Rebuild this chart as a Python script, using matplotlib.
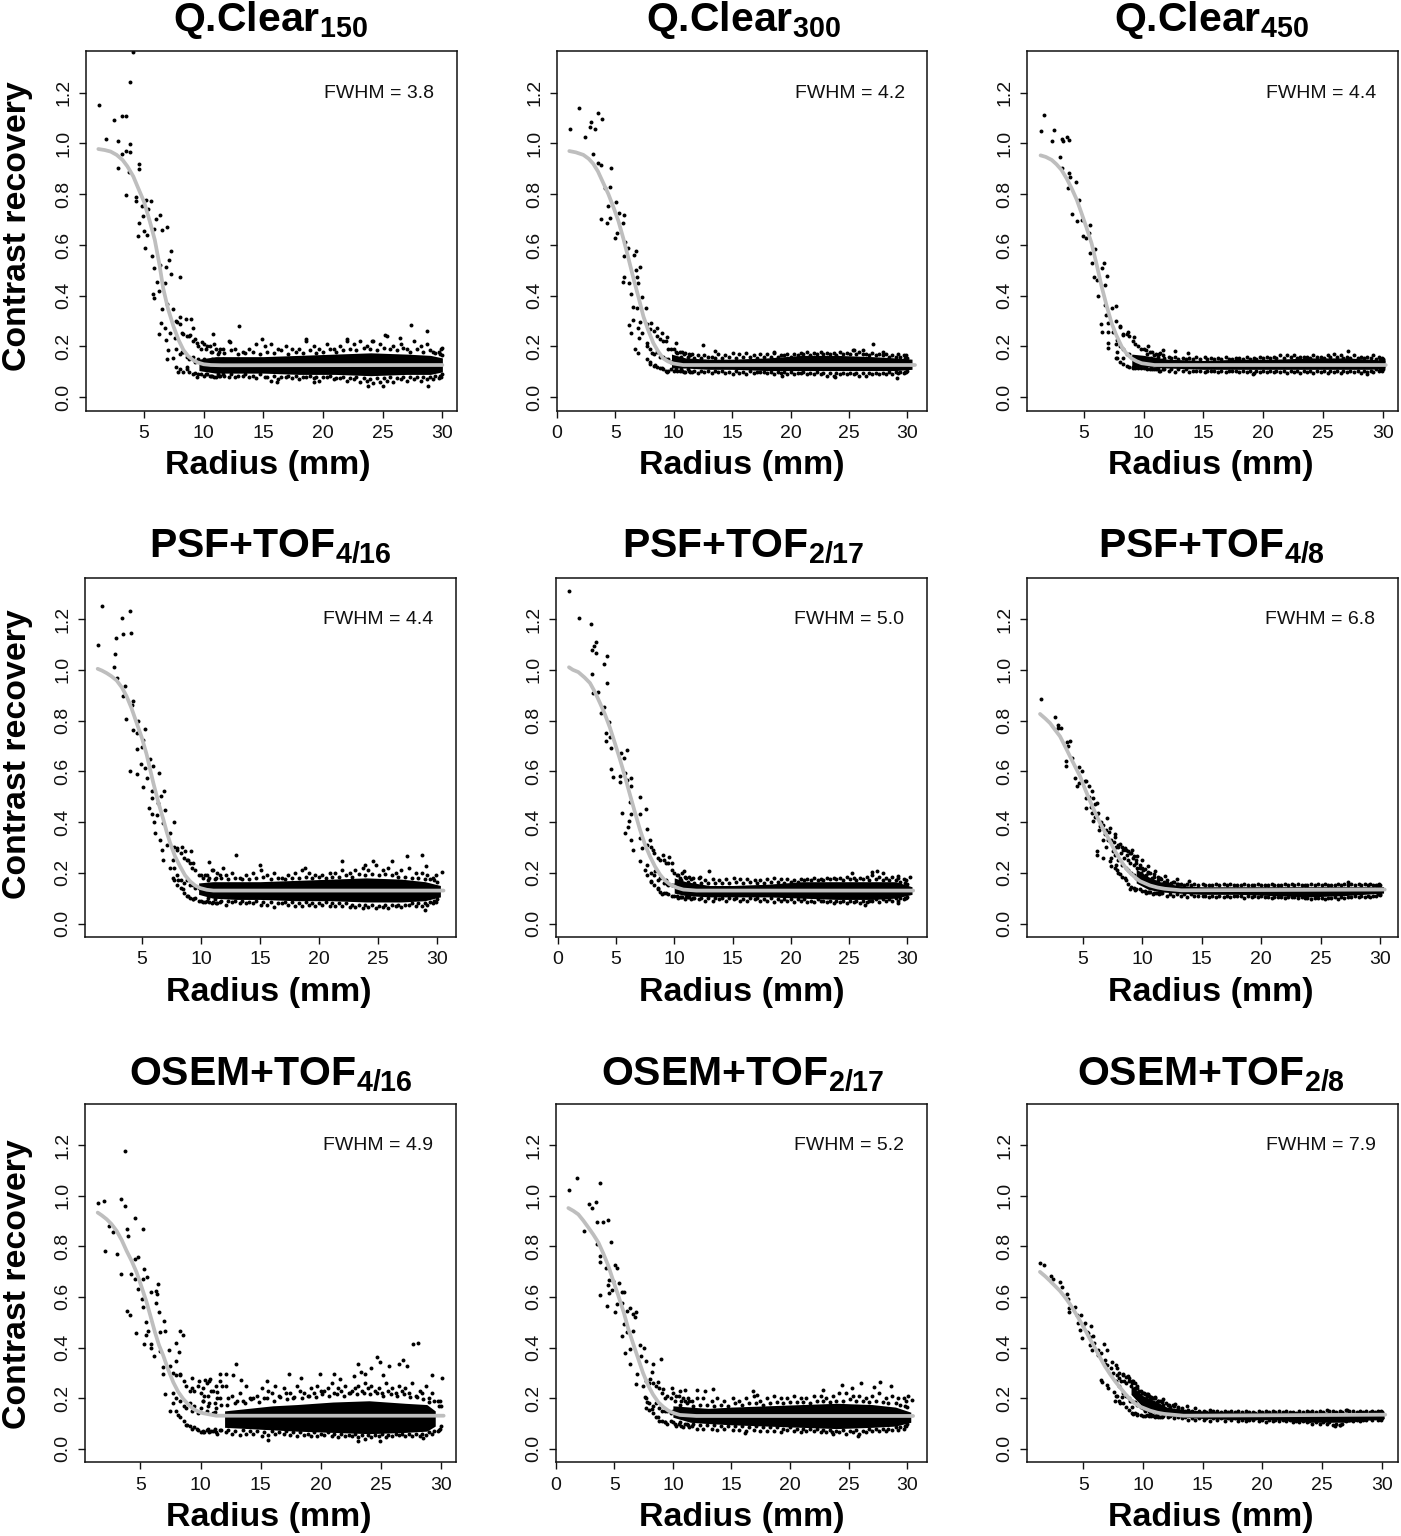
import matplotlib
matplotlib.use("Agg")
import matplotlib.pyplot as plt

plt.rcParams['font.family'] = ['Liberation Sans', 'DejaVu Sans']
plt.rcParams['mathtext.fontset'] = 'custom'
plt.rcParams['mathtext.bf'] = 'Liberation Sans:bold'
plt.rcParams['mathtext.rm'] = 'Liberation Sans'

# ---------- labels ----------
TITLES = [r"Q.Clear$_{\mathbf{150}}$", r"Q.Clear$_{\mathbf{300}}$", r"Q.Clear$_{\mathbf{450}}$",
          r"PSF+TOF$_{\mathbf{4/16}}$", r"PSF+TOF$_{\mathbf{2/17}}$", r"PSF+TOF$_{\mathbf{4/8}}$",
          r"OSEM+TOF$_{\mathbf{4/16}}$", r"OSEM+TOF$_{\mathbf{2/17}}$", r"OSEM+TOF$_{\mathbf{2/8}}$"]
FWHM = ["3.8", "4.2", "4.4", "4.4", "5.0", "6.8", "4.9", "5.2", "7.9"]
Y_TICKS = [0.0, 0.2, 0.4, 0.6, 0.8, 1.0, 1.2]
X_TICKS_NO0 = [5, 10, 15, 20, 25, 30]
X_TICKS_0 = [0, 5, 10, 15, 20, 25, 30]

# ---------- fitted curves (radius, recovery) ----------
CX1 = [1.17,1.7,2.2,2.7,3.2,3.6,4.1,4.5,5,5.5,5.9,6.3,6.6,7,7.46,7.9,8.3,8.7,9.1,9.5,10,10.6,11.5,30]
CY1 = [.978,.974,.968,.955,.935,.91,.87,.825,.77,.69,.62,.52,.43,.35,.28,.225,.186,.162,.147,.137,.13,.127,.126,.127]
CX2 = [1.05,1.6,2.25,2.7,3.1,3.5,3.97,4.4,4.82,5.25,5.68,6.1,6.54,7.0,7.4,7.8,8.25,8.7,9.1,9.5,9.96,10.8,30.66]
CY2 = [.97,.965,.955,.94,.92,.89,.843,.80,.75,.695,.625,.55,.469,.39,.318,.265,.213,.178,.153,.141,.133,.127,.127]
CX3 = [1.37,1.8,2.3,2.7,3.13,3.55,3.97,4.4,4.8,5.2,5.64,6.05,6.48,6.9,7.32,7.7,8.15,8.55,8.99,9.4,9.83,10.9,30.25]
CY3 = [.953,.947,.935,.918,.895,.862,.823,.778,.725,.67,.606,.525,.436,.36,.291,.245,.2,.173,.153,.142,.134,.127,.127]
CX4 = [1.24,1.6,2.0,2.4,2.85,3.3,3.7,4.1,4.55,5.0,5.4,5.7,5.96,6.4,6.81,7.1,7.38,7.8,8.22,8.65,9.07,9.5,9.92,10.5,11.05,30.57]
CY4 = [1.004,.997,.987,.975,.958,.93,.895,.85,.79,.73,.665,.605,.554,.475,.41,.36,.318,.265,.226,.19,.167,.15,.14,.133,.13,.13]
CX5 = [.97,1.3,1.77,2.3,2.77,3.2,3.63,4.05,4.49,4.9,5.35,5.8,6.2,6.65,7.06,7.5,7.92,8.35,8.78,9.2,9.64,10.2,10.78,11.9,30.5]
CY5 = [1.01,1.0,.991,.97,.948,.912,.869,.825,.771,.712,.646,.575,.508,.435,.37,.31,.265,.225,.193,.17,.154,.142,.134,.13,.13]
CX6 = [1.41,1.85,2.25,2.65,3.09,3.5,3.93,4.35,4.78,5.2,5.62,6.05,6.46,6.9,7.3,7.7,8.14,8.55,8.98,9.4,9.82,10.66,11.3,11.9,13.3,30.4]
CY6 = [.826,.808,.79,.765,.738,.70,.659,.62,.58,.53,.482,.437,.396,.358,.324,.287,.252,.224,.2,.182,.167,.15,.142,.137,.131,.134]
CX7 = [1.46,1.8,2.2,2.6,3.03,3.45,3.86,4.3,4.7,5.1,5.53,5.9,6.22,6.55,6.91,7.3,7.74,8.15,8.57,9.0,9.4,9.8,10.2,11.3,30.2]
CY7 = [.933,.922,.907,.888,.861,.825,.782,.74,.696,.64,.578,.515,.46,.41,.368,.315,.263,.225,.197,.175,.158,.148,.141,.131,.131]
CX8 = [1.08,1.5,1.93,2.35,2.79,3.2,3.64,4.05,4.49,4.9,5.35,5.8,6.2,6.65,7.05,7.45,7.9,8.3,8.76,9.2,9.61,10.1,10.6,12,30.5]
CY8 = [.951,.94,.926,.902,.874,.847,.815,.773,.723,.665,.604,.54,.473,.41,.355,.30,.25,.215,.184,.165,.151,.141,.134,.13,.13]
CX9 = [1.37,1.8,2.2,2.6,3.04,3.45,3.88,4.3,4.72,5.15,5.56,6,6.4,6.8,7.23,7.65,8.07,8.5,8.91,9.3,9.75,10.6,11.2,11.8,13.4,30.3]
CY9 = [.699,.682,.664,.645,.624,.60,.572,.54,.506,.47,.434,.397,.361,.327,.296,.268,.243,.218,.197,.18,.167,.151,.143,.138,.131,.135]

# ---------- individually legible points (radius, recovery) ----------
PX1 = [1.23,1.84,2.49,2.82,2.79,3.16,3.46,3.13,3.49,3.85,4.1,3.83,3.8,3.77,3.52,4.61,4.55,4.33,4.36,5.14,5.59,4.8,5.31,4.89,6.34,5.98,4.61,6.9,6.48,5.84,5.0,4.53,5.22,5.08,7.23,5.7,7.12,6.34,6.84,5.81,7.26,7.99,6.12,6.76,5.73,5.84,6.28,6.9,7.46,6.51,8.02,8.52,8.91,6.42,6.76,7.74,9.13,6.23,7.18,8.21,6.82,7.6,8.85,7.04,6.9,7.46,8.16,9.41,7.88,8.58,9.41,9.89,10.78,12.99,12.2,14.86,18.58,27.37,28.69,25.2,22.0,24.08,26.45,30.0,28.76,25.0,23.8,16.12,19.2]
PY1 = [1.15,1.016,1.092,1.01,.905,1.108,1.11,.958,.97,1.242,1.36,.999,.965,.889,.797,.919,.898,.79,.773,.777,.775,.755,.742,.714,.717,.702,.688,.672,.659,.662,.655,.637,.639,.587,.578,.557,.541,.521,.512,.508,.484,.475,.456,.449,.407,.39,.42,.368,.347,.347,.318,.31,.31,.291,.272,.298,.272,.249,.252,.255,.226,.232,.246,.186,.15,.154,.18,.213,.101,.121,.081,.217,.248,.281,.219,.228,.228,.285,.261,.245,.228,.223,.235,.193,.046,.046,.046,.062,.062]
PX2 = [1.11,1.88,2.43,2.83,2.88,3.23,3.54,3.85,3.11,3.48,3.8,4.6,4.11,4.54,5.02,4.34,3.74,4.31,4.54,5.31,5.71,5.65,5.11,4.97,5.82,6.11,6.74,6.6,5.74,7.08,6.77,6.88,5.77,5.62,6.19,6.97,6.31,7.28,6.54,7.62,6.82,6.54,6.19,7.11,8.02,6.97,6.37,7.25,8.54,8.96,9.39,7.02,7.68,6.68,6.91,8.11,7.96,8.39,8.96,9.39,10.16,12.47,13.53,27.09,25.38,18.58,26.18,27.95,19.23,23.81,29.09]
PY2 = [1.056,1.138,1.025,1.063,1.086,1.057,1.12,1.096,.957,.922,.915,.902,.826,.827,.769,.755,.702,.688,.705,.727,.719,.685,.649,.628,.613,.587,.578,.561,.557,.515,.502,.475,.475,.453,.452,.449,.406,.393,.354,.353,.351,.305,.285,.298,.291,.272,.255,.252,.272,.252,.239,.232,.213,.189,.176,.173,.14,.127,.114,.101,.215,.206,.184,.209,.186,.18,.186,.18,.084,.081,.077]
PX3 = [1.4,1.68,2.49,2.29,3.13,3.27,3.6,3.74,2.96,3.13,3.74,3.83,4.3,3.63,4.58,3.97,4.39,4.8,5.5,4.94,5.42,5.14,5.92,5.5,5.64,6.67,6.48,6.93,5.86,6.06,6.76,6.2,7.65,6.76,7.32,6.81,7.04,6.42,8.01,6.53,6.98,8.71,7.46,8.29,9.21,7.04,7.73,7.04,7.73,7.73,8.29,9.13,10.33,11.64,12.62,13.73,27.13,19.17,28.72,29.78,30.06]
PY3 = [1.05,1.111,1.054,1.01,1.017,1.008,1.024,1.015,.945,.902,.882,.869,.849,.823,.777,.721,.694,.698,.677,.637,.646,.626,.583,.567,.528,.528,.508,.478,.473,.462,.442,.399,.36,.364,.351,.324,.294,.287,.278,.259,.256,.259,.259,.245,.239,.213,.226,.193,.18,.156,.154,.121,.202,.186,.184,.173,.184,.092,.092,.108,.147]
PX4 = [1.27,1.61,2.6,2.71,2.77,3.27,3.39,4.01,4.09,2.85,3.53,3.42,4.26,4.18,3.64,4.69,5.28,4.26,4.55,5.11,4.97,4.58,4.89,3.95,4.55,5.25,5.71,5.96,6.47,5.06,5.4,5.82,6.87,6.61,5.82,5.62,6.39,6.98,5.82,6.24,7.69,6.02,6.81,6.1,7.38,6.53,7.09,8.37,6.67,7.94,6.81,8.65,9.13,7.66,7.38,8.93,7.66,9.21,8.45,8.08,8.93,9.36,10.68,12.98,11.84,15.01,24.57,27.5,28.73,26.18,30.42,29.07,29.01,21.94,23.92,18.83]
PY4 = [1.098,1.251,1.01,1.062,1.125,1.205,1.141,1.231,1.145,.968,.935,.895,.876,.863,.807,.8,.768,.761,.751,.725,.694,.688,.629,.603,.591,.613,.649,.622,.593,.538,.574,.521,.521,.504,.495,.456,.475,.446,.433,.429,.402,.399,.396,.357,.357,.331,.311,.301,.291,.298,.252,.285,.285,.252,.219,.252,.18,.219,.137,.173,.108,.095,.243,.272,.219,.23,.246,.265,.269,.246,.202,.226,.053,.246,.232,.219]
PX5 = [.97,1.8,2.83,3.26,3.15,2.92,3.29,4.2,3.95,2.92,4.2,3.06,3.46,3.97,3.72,4.4,4.15,4.15,4.49,4.55,5.92,5.4,5.72,4.6,4.72,5.78,5.92,5.35,5.35,6.32,6.32,7.09,6.2,7.58,5.49,7.06,6.32,6.15,7.64,6.0,5.81,6.29,7.06,7.92,6.49,7.21,8.21,9.06,9.58,9.78,7.06,7.49,7.98,8.35,8.64,8.92,9.35,10.84,13.01,12.21,25.28,26.94,27.42,27.94,29.22,30.23,26.37,29.17]
PY5 = [1.309,1.205,1.18,1.109,1.095,1.079,1.065,1.056,1.022,.982,.947,.908,.914,.853,.828,.796,.751,.721,.735,.693,.683,.672,.652,.61,.578,.593,.567,.583,.557,.574,.541,.498,.479,.453,.436,.433,.433,.403,.373,.379,.357,.331,.337,.331,.288,.298,.291,.272,.263,.239,.246,.213,.169,.206,.14,.118,.154,.206,.206,.184,.2,.202,.206,.2,.186,.182,.072,.081]
PX6 = [1.47,2.67,2.9,3.18,2.95,3.93,3.68,3.74,3.57,3.57,4.13,4.69,4.92,4.36,4.5,5.25,5.53,5.76,4.69,5.25,5.25,5.9,6.23,5.81,6.32,5.9,7.02,6.46,7.3,6.88,7.72,7.16,8.14,7.58,6.23,6.23,6.74,7.3,7.35,8.56,9.12,9.54,7.86,8.14,8.56,8.98,9.4,9.96,10.52,11.08,11.92,12.9,13.97,27.34,30.0]
PY6 = [.884,.815,.784,.771,.771,.721,.714,.698,.639,.622,.652,.617,.6,.574,.541,.561,.541,.521,.554,.495,.456,.495,.475,.436,.436,.403,.416,.383,.377,.351,.351,.331,.315,.285,.285,.272,.259,.246,.226,.298,.291,.265,.213,.197,.18,.137,.134,.252,.226,.206,.186,.176,.169,.163,.114]
PX7 = [1.48,2.01,2.43,2.76,2.04,3.09,3.39,3.7,3.7,3.92,3.95,4.56,5.22,3.37,4.2,4.56,4.78,5.3,4.56,5.19,5.53,6.5,6.3,5.86,6.41,4.78,5.11,5.25,3.92,4.14,6.27,6.58,5.47,7.0,4.61,5.33,5.44,5.66,8.29,8.52,6.63,7.05,5.86,5.89,6.16,7.93,7.41,8.21,6.63,7.96,6.91,7.46,8.29,9.26,6.91,9.87,10.37,10.79,11.62,12.12,12.72,12.92,13.33,7.08,7.46,8.16,8.85,9.68,10.23,11.2,10.65,11.34,11.76,10.23,15.49,17.35,18.34,19.92,21.09,21.58,22.77,23.05,23.33,24.13,24.68,24.9,25.13,25.65,26.51,26.79,27.18,27.67,28.09,29.25,30.03,23.66,15.63,24.9,23.1,28.5]
PY7 = [.97,.98,.88,.857,.783,.771,.988,1.177,.959,.87,.841,.913,.87,.689,.689,.749,.756,.71,.67,.67,.677,.65,.624,.62,.611,.631,.591,.561,.544,.528,.578,.539,.502,.505,.459,.413,.449,.466,.466,.449,.46,.466,.414,.397,.367,.417,.39,.384,.388,.348,.322,.329,.296,.281,.296,.269,.272,.276,.296,.296,.292,.334,.273,.217,.151,.134,.095,.079,.066,.145,.21,.223,.25,.191,.269,.297,.281,.294,.297,.276,.286,.334,.302,.318,.361,.344,.292,.329,.334,.351,.329,.413,.42,.292,.279,.296,.037,.033,.033,.042]
PX8 = [1.14,1.82,2.81,3.1,3.41,3.81,3.5,4.07,4.49,2.45,4.75,3.5,3.75,3.81,5.06,5.26,4.29,4.58,4.92,5.4,4.49,3.78,4.55,4.78,5.63,5.83,4.35,5.2,5.63,6.34,5.06,6.06,6.85,6.57,6.77,5.83,6.62,5.63,6.06,7.19,7.56,5.91,6.34,7.28,8.98,7.73,6.34,8.33,8.25,6.91,6.82,8.05,8.76,7.48,9.18,9.9,7.62,7.76,8.19,8.76,9.33,10.6,11.03,12.03,12.74,13.39,16.86,17.15,24.45,26.05,27.15,27.67,28.6,25.25,22.83,25.76,16.15,23.54,30.42,30.08]
PY8 = [1.022,1.071,.968,.951,.975,1.049,.896,.894,.904,.862,.817,.808,.76,.739,.728,.716,.716,.666,.664,.654,.647,.608,.614,.627,.618,.62,.565,.572,.578,.558,.539,.545,.539,.532,.519,.493,.466,.444,.46,.41,.397,.377,.394,.365,.353,.348,.335,.335,.305,.296,.258,.276,.265,.25,.237,.24,.204,.184,.158,.125,.105,.23,.234,.233,.227,.238,.23,.214,.252,.261,.246,.265,.247,.239,.233,.05,.062,.066,.194,.21]
PX9 = [1.37,1.68,2.26,2.43,3.07,3.18,3.6,3.74,3.83,3.83,4.3,4.78,4.58,4.72,5.14,4.92,5.61,5.84,5.42,5.59,5.7,6.73,6.26,6.96,7.37,6.82,7.79,6.45,6.54,6.96,7.1,8.3,8.77,9.19,7.57,7.79,7.65,8.21,8.07,8.91,9.05,9.19,9.47,10.17,10.73,10.45,11.7,12.68,13.66,27.07,26.09,26.51]
PY9 = [.732,.727,.681,.671,.657,.641,.611,.591,.555,.539,.561,.529,.497,.47,.497,.438,.484,.444,.457,.41,.39,.415,.371,.39,.344,.337,.318,.272,.264,.251,.239,.296,.289,.269,.223,.21,.19,.204,.182,.19,.164,.138,.138,.151,.134,.217,.197,.177,.17,.155,.09,.095]

# ---------- further points in the crowded stretches of three panels ----------
EX6 = [6.0,6.2,6.5,6.7,7.0,7.2,7.4,7.6,7.8,8.0,8.2,8.4,8.5,8.7,8.8,9.0,9.0,9.2,9.3,9.5,9.6,9.8,9.9,10.1,10.3,10.5,10.8,11.0,11.3,11.5,11.8,12.1,12.4,12.7,13.0,5.2,5.5,5.7,6.0,6.4,6.7,7.0,7.4,7.8]
EY6 = [.47,.43,.40,.39,.37,.36,.33,.32,.30,.30,.28,.29,.26,.27,.25,.28,.24,.26,.23,.24,.22,.22,.20,.21,.19,.20,.18,.185,.17,.18,.165,.17,.16,.165,.155,.56,.50,.46,.42,.37,.33,.30,.26,.23]
EX7 = [12.2,13.0,13.7,14.2,14.9,15.5,16.1,16.6,17.2,17.8,18.4,19.0,19.6,20.1,20.7,21.3,21.9,22.4,23.0,23.6,24.1,24.7,25.2,25.8,26.3,26.9,27.4,28.0,28.5,29.0]
EY7 = [.175,.19,.18,.195,.185,.20,.19,.205,.195,.205,.20,.21,.205,.215,.21,.215,.21,.22,.215,.22,.215,.22,.21,.215,.21,.215,.205,.205,.195,.185]
EX9 = [4.5,5,5.3,5.6,5.9,6.2,6.5,6.8,7.0,7.3,7.5,7.8,8.0,8.2,8.4,8.6,8.8,9.0,9.1,9.3,9.5,9.7,9.9,10.1,10.3,10.5,10.8,11,11.3,11.6,11.9,12.2,12.5,12.9,13.3]
EY9 = [.53,.49,.46,.44,.42,.39,.38,.35,.33,.32,.30,.29,.28,.27,.27,.26,.27,.25,.26,.24,.24,.23,.22,.22,.21,.21,.20,.205,.19,.19,.18,.175,.175,.165,.16]

# ---------- transition zone where the curve meets the plateau ----------
TR_X = [7.7,8.0,8.3,8.6,8.8,9.1,9.3,9.5,9.8,10.0,10.2,10.5,10.7,11.0,11.3,11.6]
TU1 = [.30,.29,.25,.24,.24,.22,.23,.20,.19,.21,.19,.20,.18,.19,.18,.19]
TM1 = [.19,.17,.18,.16,.15,.16,.14,.15,.14,.15,.14,.13,.15,.14,.14,.15]
TL1 = [.12,.11,.10,.11,.10,.09,.095,.09,.09,.085,.09,.085,.085,.08,.085,.09]
TU2 = [.29,.27,.26,.24,.23,.22,.22,.19,.19,.19,.18,.18,.18,.175,.17,.17]
TM2 = [.20,.19,.17,.18,.16,.16,.15,.15,.14,.15,.14,.14,.14,.14,.13,.14]
TL2 = [.15,.13,.125,.12,.115,.11,.105,.105,.11,.105,.11,.105,.105,.10,.105,.10]
TU3 = [.30,.28,.25,.25,.24,.22,.21,.20,.19,.19,.185,.18,.18,.17,.17,.165]
TM3 = [.21,.20,.19,.17,.17,.16,.15,.15,.14,.14,.145,.14,.14,.14,.14,.13]
TL3 = [.155,.14,.13,.125,.12,.115,.115,.115,.115,.115,.115,.11,.11,.11,.105,.11]
TU4 = [.30,.29,.28,.26,.25,.24,.24,.21,.19,.19,.18,.19,.18,.21,.18,.19]
TM4 = [.22,.19,.17,.16,.17,.15,.15,.14,.14,.14,.14,.13,.13,.14,.13,.14]
TL4 = [.17,.15,.14,.12,.11,.10,.095,.10,.09,.09,.085,.09,.085,.085,.08,.085]
TU5 = [.31,.30,.28,.26,.25,.25,.24,.24,.21,.20,.19,.18,.20,.18,.185,.18]
TM5 = [.23,.20,.19,.17,.18,.16,.17,.15,.15,.15,.14,.14,.14,.13,.14,.13]
TL5 = [.19,.165,.15,.135,.125,.12,.12,.115,.11,.11,.11,.105,.105,.105,.105,.10]
TU6 = [.34,.31,.30,.29,.285,.28,.265,.25,.23,.22,.215,.205,.20,.195,.185,.175]
TM6 = [.27,.25,.23,.22,.21,.20,.19,.18,.17,.165,.16,.155,.15,.145,.14,.14]
TL6 = [.22,.20,.185,.17,.155,.145,.14,.135,.135,.13,.13,.125,.125,.12,.12,.12]
TU7 = [.30,.29,.29,.27,.25,.23,.24,.23,.25,.22,.24,.26,.27,.23,.25,.27]
TM7 = [.22,.20,.19,.17,.16,.18,.15,.17,.14,.16,.19,.15,.18,.14,.16,.20]
TL7 = [.18,.15,.125,.11,.095,.09,.08,.085,.075,.065,.07,.075,.065,.07,.065,.075]
TU8 = [.27,.26,.26,.25,.24,.22,.20,.21,.20,.22,.19,.21,.19,.19,.20,.19]
TM8 = [.20,.18,.17,.18,.16,.15,.15,.15,.14,.15,.14,.14,.14,.15,.13,.14]
TL8 = [.16,.155,.14,.125,.11,.11,.105,.10,.11,.105,.10,.10,.09,.10,.095,.09]
TU9 = [.33,.30,.29,.285,.28,.27,.26,.25,.23,.22,.215,.21,.205,.20,.19,.185]
TM9 = [.27,.25,.22,.21,.20,.19,.185,.175,.165,.16,.155,.15,.15,.145,.14,.14]
TL9 = [.21,.19,.18,.165,.155,.14,.14,.135,.135,.13,.13,.13,.13,.125,.125,.125]

# ---------- dense cloud: solid core envelope (radius, upper, lower) ----------
KX1 = [9.6,11,13,15,18,21,24,27,29,30.0]
KT1 = [.15,.16,.16,.16,.165,.17,.175,.17,.165,.155]
KB1 = [.105,.095,.095,.095,.09,.09,.085,.09,.09,.10]
KX2 = [9.8,11,13,15,18,21,24,27,29,30.4]
KT2 = [.17,.155,.15,.15,.155,.165,.165,.16,.155,.15]
KB2 = [.115,.115,.11,.11,.105,.105,.105,.105,.105,.11]
KX3 = [9,10,12,15,18,21,24,27,29,30.2]
KT3 = [.17,.165,.15,.145,.15,.15,.155,.155,.15,.145]
KB3 = [.12,.12,.115,.11,.11,.11,.11,.11,.11,.115]
KX4 = [9.8,11,13,15,18,21,24,27,29,30.3]
KT4 = [.16,.165,.165,.165,.17,.175,.18,.175,.165,.15]
KB4 = [.115,.10,.095,.095,.09,.09,.085,.085,.09,.105]
KX5 = [10,11,13,15,18,21,24,27,29,30.4]
KT5 = [.18,.165,.15,.15,.155,.165,.165,.165,.165,.145]
KB5 = [.12,.11,.105,.105,.105,.10,.095,.095,.10,.115]
KX6 = [9.5,10.5,11.5,13,15,18,21,24,27,30.3]
KT6 = [.215,.185,.165,.15,.145,.145,.145,.145,.145,.145]
KB6 = [.16,.135,.125,.12,.115,.115,.11,.105,.11,.12]
KX7 = [12,14,16,18,21,24,27,28.8,29.5]
KT7 = [.15,.16,.17,.175,.185,.19,.18,.175,.15]
KB7 = [.085,.08,.075,.07,.065,.06,.065,.07,.09]
KX8 = [10,11.5,13,15,18,21,24,27,29,30.3]
KT8 = [.17,.165,.16,.165,.17,.175,.18,.175,.165,.145]
KB8 = [.125,.105,.10,.095,.09,.085,.08,.085,.09,.105]
KX9 = [9,10,11,12,13.5,15,18,21,24,27,30.2]
KT9 = [.252,.21,.19,.165,.155,.15,.145,.145,.145,.145,.145]
KB9 = [.215,.165,.14,.13,.125,.12,.115,.115,.105,.105,.12]

# ---------- dense cloud: outer fringe of points ----------
FRINGE_X = [10.3,10.9,11.4,12.1,12.6,13.3,13.8,14.4,15.1,15.6,16.2,16.9,17.4,18.0,18.6,19.2,19.7,20.3,20.9,21.4,22.0,22.6,23.1,23.7,24.2,24.8,25.4,25.9,26.5,27.0,27.6,28.2,28.7,29.2,29.7,29.9]
FT1 = [.20,.21,.19,.22,.19,.18,.19,.21,.20,.21,.19,.20,.19,.19,.22,.20,.19,.21,.19,.20,.22,.21,.22,.20,.22,.21,.24,.20,.21,.19,.22,.20,.21,.18,.18,.19]
FB1 = [.09,.08,.085,.08,.08,.085,.08,.075,.08,.065,.07,.08,.075,.07,.08,.075,.065,.08,.07,.075,.065,.07,.06,.065,.055,.06,.065,.06,.07,.065,.07,.065,.07,.07,.075,.08]
FT2 = [.175,.17,.165,.165,.165,.16,.17,.165,.175,.17,.175,.165,.17,.17,.175,.165,.17,.17,.175,.18,.175,.18,.175,.175,.18,.175,.185,.18,.17,.175,.17,.17,.165,.17,.165,.165]
FB2 = [.105,.10,.10,.095,.10,.095,.10,.095,.09,.095,.09,.095,.10,.095,.09,.095,.09,.09,.095,.09,.09,.09,.085,.085,.09,.09,.09,.085,.085,.09,.09,.09,.09,.095,.095,.10]
FT3 = [.17,.165,.175,.16,.16,.155,.155,.16,.16,.155,.155,.16,.15,.155,.16,.155,.16,.16,.16,.165,.165,.165,.16,.16,.165,.16,.165,.17,.165,.16,.165,.16,.16,.165,.16,.155]
FB3 = [.11,.11,.105,.105,.10,.105,.10,.105,.10,.105,.10,.10,.105,.10,.10,.095,.10,.10,.10,.10,.095,.10,.095,.10,.095,.10,.095,.10,.095,.10,.10,.095,.10,.10,.105,.105]
FT4 = [.19,.21,.20,.19,.20,.18,.19,.20,.21,.19,.20,.18,.19,.20,.21,.20,.19,.19,.20,.20,.21,.20,.21,.22,.21,.23,.21,.22,.20,.21,.22,.20,.20,.19,.18,.19]
FB4 = [.085,.08,.08,.075,.085,.08,.08,.08,.075,.075,.065,.08,.075,.07,.07,.075,.07,.075,.07,.07,.07,.065,.065,.06,.065,.06,.065,.06,.07,.065,.075,.07,.07,.075,.08,.085]
FT5 = [.19,.185,.175,.18,.17,.175,.17,.175,.18,.175,.175,.17,.17,.175,.18,.175,.175,.17,.175,.175,.18,.175,.18,.18,.18,.185,.18,.18,.185,.19,.185,.18,.185,.18,.175,.17]
FB5 = [.10,.095,.095,.095,.09,.09,.095,.09,.095,.09,.09,.095,.09,.09,.085,.09,.09,.085,.09,.085,.085,.09,.085,.08,.085,.08,.085,.08,.085,.09,.085,.09,.09,.09,.095,.10]
FT6 = [.17,.165,.175,.16,.165,.155,.155,.155,.155,.15,.155,.155,.155,.15,.155,.15,.155,.15,.155,.15,.155,.155,.155,.15,.155,.155,.155,.15,.155,.155,.155,.155,.155,.155,.15,.155]
FB6 = [.12,.115,.115,.11,.11,.11,.105,.11,.11,.105,.105,.105,.105,.11,.10,.105,.105,.105,.10,.105,.10,.105,.10,.10,.095,.10,.095,.10,.095,.10,.105,.105,.105,.105,.11,.115]
FT7 = [.21,.23,.20,.25,.21,.22,.25,.20,.24,.23,.25,.24,.22,.25,.22,.24,.25,.23,.26,.24,.25,.23,.25,.26,.25,.24,.26,.24,.25,.24,.26,.23,.25,.22,.19,.19]
FB7 = [.065,.07,.06,.065,.06,.055,.06,.06,.05,.055,.06,.06,.055,.05,.055,.05,.05,.055,.05,.045,.05,.05,.045,.04,.045,.05,.045,.05,.055,.05,.05,.05,.055,.06,.07,.08]
FT8 = [.21,.20,.19,.20,.20,.19,.20,.19,.20,.19,.20,.21,.19,.20,.21,.20,.20,.21,.20,.20,.21,.21,.20,.21,.22,.22,.21,.21,.20,.21,.22,.20,.21,.20,.20,.19]
FB8 = [.09,.085,.085,.08,.08,.08,.075,.08,.075,.075,.07,.075,.07,.07,.07,.065,.075,.07,.065,.07,.07,.065,.065,.06,.065,.06,.065,.06,.065,.07,.07,.07,.075,.075,.08,.09]
FT9 = [.215,.20,.19,.175,.17,.155,.155,.16,.15,.155,.15,.15,.15,.15,.15,.145,.15,.15,.15,.15,.15,.145,.15,.15,.15,.15,.155,.15,.15,.155,.15,.15,.15,.15,.15,.15]
FB9 = [.135,.13,.125,.125,.12,.12,.115,.115,.115,.11,.115,.11,.115,.11,.11,.115,.11,.105,.11,.11,.11,.105,.105,.105,.10,.10,.10,.095,.095,.11,.11,.11,.115,.115,.115,.115]

# ---------- dense cloud: inner fringe of points, next to the core ----------
MID_X = [10.6,11.2,11.7,12.3,12.9,13.5,14.1,14.7,15.3,15.9,16.5,17.1,17.7,18.3,18.9,19.4,20.0,20.6,21.1,21.7,22.3,22.8,23.4,23.9,24.5,25.1,25.6,26.2,26.7,27.3,27.9,28.4,29.0,29.4,29.8,30.0]
MT1 = [.18,.17,.175,.185,.17,.175,.18,.17,.18,.175,.185,.17,.18,.175,.185,.175,.18,.19,.18,.185,.19,.185,.195,.19,.185,.195,.19,.185,.195,.18,.19,.18,.185,.175,.17,.165]
MB1 = [.085,.09,.085,.09,.085,.09,.085,.09,.08,.085,.08,.085,.085,.08,.085,.08,.08,.085,.075,.08,.075,.08,.075,.07,.075,.075,.08,.075,.08,.08,.08,.08,.08,.085,.085,.09]
MT2 = [.16,.16,.155,.155,.16,.155,.155,.16,.155,.16,.16,.155,.16,.16,.16,.165,.16,.165,.17,.165,.17,.17,.17,.165,.17,.17,.17,.17,.165,.165,.165,.16,.16,.16,.155,.155]
MB2 = [.11,.11,.105,.105,.105,.105,.105,.10,.105,.10,.105,.10,.10,.10,.10,.10,.10,.095,.10,.095,.10,.095,.095,.095,.095,.095,.095,.095,.095,.095,.095,.10,.10,.10,.10,.105]
MT3 = [.155,.16,.155,.155,.15,.15,.15,.15,.15,.15,.15,.15,.155,.15,.15,.15,.155,.155,.155,.155,.16,.155,.16,.155,.16,.155,.16,.16,.155,.155,.155,.155,.155,.15,.15,.15]
MB3 = [.115,.115,.11,.11,.11,.11,.105,.105,.105,.105,.105,.105,.105,.105,.105,.105,.105,.105,.105,.105,.105,.105,.105,.105,.105,.105,.105,.105,.105,.105,.105,.105,.105,.11,.11,.11]
MT4 = [.17,.175,.18,.175,.18,.175,.175,.18,.185,.175,.18,.175,.18,.18,.185,.18,.185,.18,.185,.185,.19,.185,.195,.19,.195,.19,.195,.19,.185,.185,.18,.18,.175,.175,.17,.165]
MB4 = [.10,.095,.09,.09,.09,.09,.085,.09,.085,.085,.08,.085,.085,.08,.085,.08,.08,.085,.08,.08,.08,.075,.075,.075,.075,.07,.075,.075,.075,.075,.08,.08,.08,.085,.09,.095]
MT5 = [.17,.165,.16,.16,.16,.16,.16,.16,.165,.16,.165,.16,.16,.165,.165,.16,.165,.165,.17,.17,.17,.17,.175,.175,.17,.175,.17,.175,.17,.175,.17,.17,.17,.165,.16,.155]
MB5 = [.105,.105,.10,.10,.10,.10,.10,.10,.10,.095,.10,.10,.095,.10,.095,.095,.095,.095,.095,.09,.095,.09,.09,.09,.09,.09,.09,.09,.09,.095,.095,.095,.10,.10,.10,.105]
MT6 = [.165,.16,.155,.155,.155,.15,.15,.15,.15,.15,.15,.15,.15,.15,.15,.15,.15,.15,.15,.15,.15,.15,.15,.15,.15,.15,.15,.15,.15,.15,.15,.15,.15,.15,.15,.15]
MB6 = [.125,.12,.12,.115,.115,.115,.115,.11,.11,.11,.11,.11,.11,.11,.11,.11,.11,.105,.105,.105,.105,.105,.105,.10,.10,.10,.10,.105,.105,.105,.11,.11,.11,.11,.115,.115]
MT7 = [.17,.18,.175,.20,.18,.19,.20,.21,.20,.22,.21,.22,.20,.23,.21,.22,.23,.24,.22,.23,.22,.24,.23,.24,.23,.22,.23,.22,.23,.22,.21,.22,.20,.19,.17,.17]
MB7 = [.08,.08,.075,.075,.07,.075,.07,.07,.065,.07,.065,.07,.065,.065,.06,.065,.06,.065,.06,.06,.055,.06,.055,.055,.055,.06,.055,.06,.06,.06,.06,.06,.065,.07,.075,.09]
MT8 = [.175,.18,.17,.175,.175,.17,.175,.17,.18,.175,.18,.18,.175,.18,.185,.18,.185,.185,.185,.18,.19,.19,.185,.19,.19,.195,.19,.19,.185,.19,.185,.18,.18,.175,.17,.165]
MB8 = [.105,.10,.10,.095,.095,.095,.09,.09,.09,.09,.085,.09,.085,.085,.085,.08,.085,.08,.08,.08,.08,.075,.075,.07,.075,.07,.075,.07,.08,.08,.08,.08,.085,.085,.09,.10]
MT9 = [.195,.185,.175,.165,.16,.15,.15,.15,.145,.15,.145,.145,.145,.145,.145,.14,.145,.145,.145,.145,.145,.14,.145,.145,.145,.145,.15,.145,.145,.15,.145,.145,.145,.145,.145,.145]
MB9 = [.14,.135,.13,.13,.125,.125,.12,.12,.12,.12,.12,.12,.12,.115,.115,.12,.115,.115,.115,.115,.115,.11,.11,.11,.105,.105,.105,.10,.10,.115,.115,.115,.12,.12,.12,.12]

CURVES = [(CX1,CY1),(CX2,CY2),(CX3,CY3),(CX4,CY4),(CX5,CY5),(CX6,CY6),(CX7,CY7),(CX8,CY8),(CX9,CY9)]
POINTS = [(PX1,PY1),(PX2,PY2),(PX3,PY3),(PX4,PY4),(PX5,PY5),(PX6,PY6),(PX7,PY7),(PX8,PY8),(PX9,PY9)]
EXTRAS = {5: (EX6,EY6), 6: (EX7,EY7), 8: (EX9,EY9)}
TRANS = [(TU1,TM1,TL1),(TU2,TM2,TL2),(TU3,TM3,TL3),(TU4,TM4,TL4),(TU5,TM5,TL5),(TU6,TM6,TL6),(TU7,TM7,TL7),(TU8,TM8,TL8),(TU9,TM9,TL9)]
CORES = [(KX1,KT1,KB1),(KX2,KT2,KB2),(KX3,KT3,KB3),(KX4,KT4,KB4),(KX5,KT5,KB5),(KX6,KT6,KB6),(KX7,KT7,KB7),(KX8,KT8,KB8),(KX9,KT9,KB9)]
FRINGES = [(FT1,FB1),(FT2,FB2),(FT3,FB3),(FT4,FB4),(FT5,FB5),(FT6,FB6),(FT7,FB7),(FT8,FB8),(FT9,FB9)]
MIDS = [(MT1,MB1),(MT2,MB2),(MT3,MB3),(MT4,MB4),(MT5,MB5),(MT6,MB6),(MT7,MB7),(MT8,MB8),(MT9,MB9)]

# ---------- layout (pixels) ----------
W, H = 1401, 1536
BOX_X = [(85.7,456.7),(556.7,927.3),(1027.3,1398.3),
         (84.7,455.7),(555.7,926.7),(1026.7,1397.7),
         (84.7,455.7),(555.7,926.7),(1026.7,1397.7)]
BOX_Y = [(51.3,410.7),(577.7,937.0),(1103.7,1462.3)]
XLIMS = [(0.11,31.2),(-0.03,31.71),(0.26,31.3),
         (0.14,31.6),(-0.17,31.66),(0.29,31.49),
         (0.38,31.2),(0.0,31.66),(0.26,31.34)]
YLIM = (-0.053, 1.363)
TITLE_CX = [270,743,1211,270,743,1211,271,743,1211]
TITLE_BASE = [31,556,1084]
XLAB_CX = [268,742,1211,269,742,1211,269,742,1211]
XLAB_BASE = [474,1001,1526]
YLAB_CY = [226,754,1284]
YLAB_BASE_X = 26

INK = '#111111'
DOT = 8
fig = plt.figure(figsize=(W/100, H/100), dpi=100, facecolor='white')

for i in range(9):
    row, col = i // 3, i % 3
    x0, x1 = BOX_X[i]
    y0, y1 = BOX_Y[row]
    ax = fig.add_axes([x0/W, 1-y1/H, (x1-x0)/W, (y1-y0)/H])
    ax.set_xlim(*XLIMS[i])
    ax.set_ylim(*YLIM)

    kx, kt, kb = CORES[i]
    ax.fill_between(kx, kb, kt, color='black', lw=0, zorder=2)
    for xs, series in ((FRINGE_X, FRINGES[i]), (MID_X, MIDS[i]), (TR_X, TRANS[i])):
        for ys in series:
            ax.scatter(xs, ys, s=DOT, c='black', linewidths=0, zorder=2)
    px, py = POINTS[i]
    ax.scatter(px, py, s=DOT, c='black', linewidths=0, zorder=2)
    if i in EXTRAS:
        ex, ey = EXTRAS[i]
        ax.scatter(ex, ey, s=DOT, c='black', linewidths=0, zorder=2)
    cx, cy = CURVES[i]
    ax.plot(cx, cy, color='#bebebe', lw=2.7, solid_capstyle='round', solid_joinstyle='round', zorder=3)

    ax.set_xticks(X_TICKS_0 if col == 1 else X_TICKS_NO0)
    ax.set_yticks(Y_TICKS)
    ax.set_yticklabels([f"{v:.1f}" for v in Y_TICKS], rotation=90, va='center')
    ax.tick_params(axis='x', length=5.3, width=1.0, labelsize=14, pad=5, color=INK, labelcolor=INK)
    ax.tick_params(axis='y', length=5.3, width=1.0, labelsize=14, pad=4.5, color=INK, labelcolor=INK)
    for s in ax.spines.values():
        s.set_linewidth(1.1)
        s.set_color(INK)

    ax.text(0.94, 0.871, f"FWHM = {FWHM[i]}", transform=ax.transAxes, ha='right', va='baseline',
            fontsize=14, color=INK)

    fig.text(TITLE_CX[i]/W, 1-TITLE_BASE[row]/H, TITLES[i], ha='center', va='baseline',
             fontsize=29.5, fontweight='bold', color='black')
    fig.text(XLAB_CX[i]/W, 1-XLAB_BASE[row]/H, "Radius (mm)", ha='center', va='baseline',
             fontsize=24.5, fontweight='bold', color='black')
    if col == 0:
        fig.text(YLAB_BASE_X/W, 1-YLAB_CY[row]/H, "Contrast recovery", rotation=90, ha='center',
                 va='baseline', rotation_mode='anchor', fontsize=24.4, fontweight='bold', color='black')

fig.savefig("out.png", dpi=100, facecolor='white')
